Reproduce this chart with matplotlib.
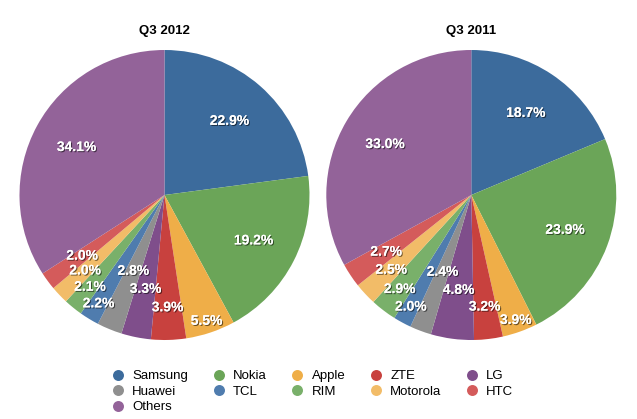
import numpy as np
import matplotlib
matplotlib.use("Agg")
import matplotlib.pyplot as plt
import matplotlib.patheffects as pe
from matplotlib.lines import Line2D

plt.rcParams['font.family'] = ['Liberation Sans', 'DejaVu Sans']

# --- data ---
vendors = ['Samsung', 'Nokia', 'Apple', 'ZTE', 'LG', 'Huawei',
           'TCL', 'RIM', 'Motorola', 'HTC', 'Others']
share_2012 = [22.9, 19.2, 5.5, 3.9, 3.3, 2.8, 2.2, 2.1, 2.0, 2.0, 34.1]
share_2011 = [18.7, 23.9, 3.9, 3.2, 4.8, 2.4, 2.0, 2.9, 2.5, 2.7, 33.0]
titles = ['Q3 2012', 'Q3 2011']

# --- style ---
colors = ['#3c6b9c', '#6ba558', '#efae48', '#c8413e', '#7f4e8b', '#8f8f8f',
          '#4f7cae', '#79b06a', '#f2bc68', '#d45b5b', '#936399']
# radial distance of each percentage label (fraction of radius)
label_r = [0.68, 0.69, 0.915, 0.775, 0.66, 0.565, 0.875, 0.815, 0.755, 0.705, 0.69]

W, H = 637, 419
fig = plt.figure(figsize=(W / 100, H / 100), dpi=100)

R = 145
centers = [(164.5, 195), (471.3, 195)]

shadow = [pe.withSimplePatchShadow(offset=(0.8, -0.8), shadow_rgbFace='black', alpha=0.55),
          pe.Normal()]

for (cx, cy), vals, title in zip(centers, [share_2012, share_2011], titles):
    ax = fig.add_axes([(cx - R) / W, 1 - (cy + R) / H, 2 * R / W, 2 * R / H])
    wedges, _ = ax.pie(vals, colors=colors, startangle=90, counterclock=False,
                       radius=1, wedgeprops=dict(linewidth=0))
    ax.set_xlim(-1, 1)
    ax.set_ylim(-1, 1)
    ax.set_aspect('equal')
    ax.axis('off')
    tot = sum(vals)
    cum = np.cumsum([0] + list(vals))
    for i, v in enumerate(vals):
        mid = (cum[i] + v / 2) / tot * 2 * np.pi  # clockwise from top
        r = label_r[i]
        ax.text(r * np.sin(mid), r * np.cos(mid), f'{v:.1f}%', ha='center', va='center',
                color='white', fontsize=10, fontweight='bold', path_effects=shadow)
    ax.text(0, (cy - 31) / R, title, ha='center', va='center', fontsize=9.5,
            fontweight='bold', color='black', clip_on=False)

# legend: column-first ordering so rows read Samsung, Nokia, Apple, ZTE, LG ...
order = [0, 5, 10, 1, 6, 2, 7, 3, 8, 4, 9]
handles = [Line2D([], [], marker='o', linestyle='none', markersize=7.9,
                  markerfacecolor=colors[i], markeredgewidth=0) for i in order]
labels = [vendors[i] for i in order]
fig.legend(handles, labels, ncol=5, loc='upper left',
           bbox_to_anchor=(112.5 / W, 1 - 370 / H), frameon=False,
           fontsize=9.5, borderpad=0, borderaxespad=0, handlelength=0.85,
           handletextpad=0.65, columnspacing=1.9, labelspacing=0.25)

fig.savefig('out.png', dpi=100)
